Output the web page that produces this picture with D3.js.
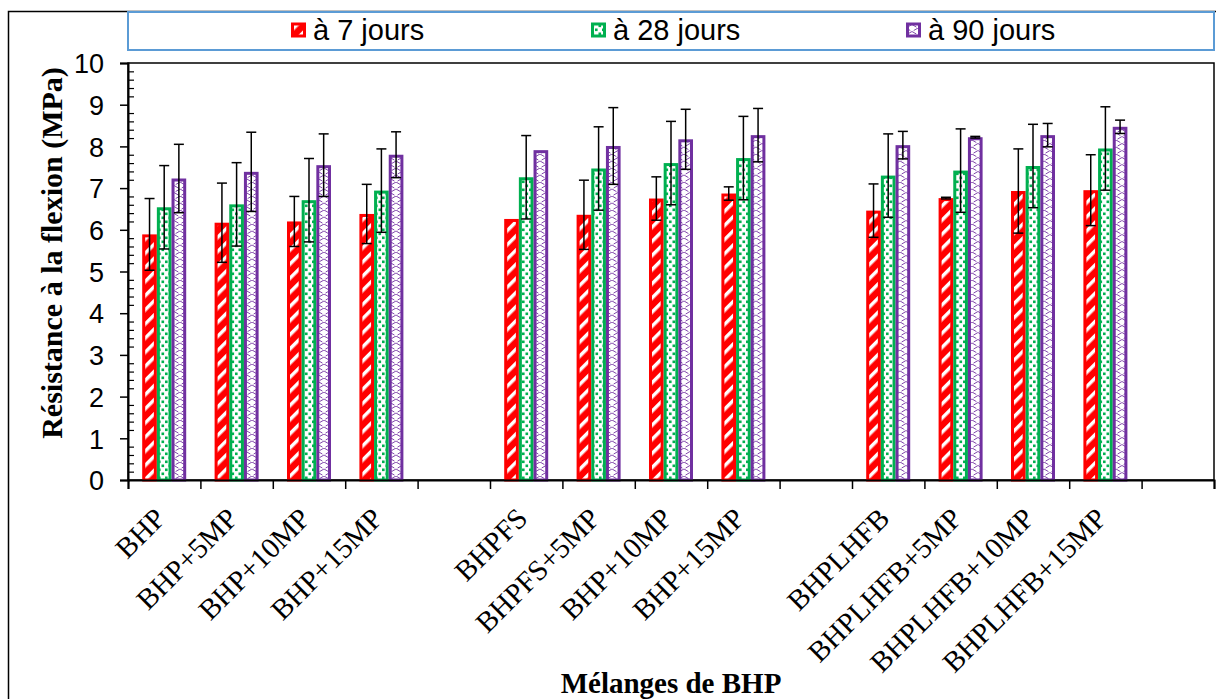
<!DOCTYPE html>
<html>
<head>
<meta charset="utf-8">
<script src="https://cdn.jsdelivr.net/npm/d3@7"></script>
<style>
	body { margin: 0; background: #fff; }
	svg { display: block; }
	.tick-y { font-family: "Liberation Sans", Arial, sans-serif; font-size: 27px; }
	.tick-x { font-family: "Liberation Serif", "Times New Roman", serif; font-size: 29px; }
	.title { font-family: "Liberation Serif", "Times New Roman", serif; font-size: 29px; font-weight: bold; }
	.title-y { font-size: 30px; }
	.legend { font-family: "Liberation Sans", Arial, sans-serif; font-size: 29px; }
</style>
</head>
<body>
<div id="chart"></div>
<script>
// ---------- DATA ----------
// empty strings are the blank slots between the three families
const categories = [
	"BHP", "BHP+5MP", "BHP+10MP", "BHP+15MP", "",
	"BHPFS", "BHPFS+5MP", "BHP+10MP", "BHP+15MP", "",
	"BHPLHFB", "BHPLHFB+5MP", "BHPLHFB+10MP", "BHPLHFB+15MP", "",
];

const seriesNames = ["à 7 jours", "à 28 jours", "à 90 jours"];

const jours7 = [5.89, 6.17, 6.2, 6.38, null, 6.26, 6.36, 6.75, 6.87, null, 6.46, 6.76, 6.93, 6.95, null];
const jours28 = [6.54, 6.61, 6.71, 6.94, null, 7.26, 7.47, 7.6, 7.72, null, 7.3, 7.42, 7.53, 7.95, null];
const jours90 = [7.23, 7.39, 7.55, 7.8, null, 7.91, 8.01, 8.17, 8.27, null, 8.03, 8.22, 8.27, 8.47, null];

const err7 = [0.86, 0.95, 0.6, 0.71, null, 0, 0.83, 0.52, 0.16, null, 0.64, 0.02, 1.01, 0.85, null];
const err28 = [1.0, 1.0, 1.0, 1.0, null, 1.0, 1.0, 1.0, 1.0, null, 1.0, 1.0, 1.0, 1.0, null];
const err90 = [0.82, 0.95, 0.75, 0.55, null, 0, 0.92, 0.72, 0.64, null, 0.33, 0.02, 0.28, 0.16, null];

const yTicks = [0, 1, 2, 3, 4, 5, 6, 7, 8, 9, 10];

// ---------- LAYOUT ----------
const width = 1216;
const height = 699;
const plot = { left: 128, right: 1214, top: 63, bottom: 480 };

const colors = ["#FF0000", "#00B050", "#7030A0"];
const patterns = ["pat-red", "pat-green", "pat-purple"];

const svg = d3
	.select("#chart")
	.append("svg")
	.attr("width", width)
	.attr("height", height);

svg.append("rect").attr("width", width).attr("height", height).attr("fill", "#fff");

// hatch patterns
const defs = svg.append("defs");

const pRed = defs
	.append("pattern")
	.attr("id", "pat-red")
	.attr("patternUnits", "userSpaceOnUse")
	.attr("width", 10)
	.attr("height", 10)
	.attr("patternTransform", "rotate(45)");
pRed.append("rect").attr("width", 10).attr("height", 10).attr("fill", colors[0]);
pRed.append("rect").attr("width", 3.5).attr("height", 10).attr("fill", "#fff");

const pGreen = defs
	.append("pattern")
	.attr("id", "pat-green")
	.attr("patternUnits", "userSpaceOnUse")
	.attr("width", 7)
	.attr("height", 8);
pGreen.append("rect").attr("width", 7).attr("height", 8).attr("fill", "#fff");
pGreen.append("rect").attr("x", 0.5).attr("y", 0.5).attr("width", 2.6).attr("height", 2.6).attr("fill", colors[1]);
pGreen.append("rect").attr("x", 4).attr("y", 4.5).attr("width", 2.6).attr("height", 2.6).attr("fill", colors[1]);

const pPurple = defs
	.append("pattern")
	.attr("id", "pat-purple")
	.attr("patternUnits", "userSpaceOnUse")
	.attr("width", 12)
	.attr("height", 14);
pPurple.append("rect").attr("width", 12).attr("height", 14).attr("fill", "#fff");
pPurple
	.append("path")
	.attr("d", "M0,0 L12,7 L0,14 M12,0 L0,7 L12,14")
	.attr("fill", "none")
	.attr("stroke", colors[2])
	.attr("stroke-width", 0.9)
	.attr("stroke-dasharray", "5,2");

// outer frame
svg.append("rect")
	.attr("x", 8.5)
	.attr("y", 11.5)
	.attr("width", width)
	.attr("height", height)
	.attr("fill", "none")
	.attr("stroke", "#000")
	.attr("stroke-width", 1.5);

// ---------- SCALES ----------
const x = d3
	.scaleBand()
	.domain(d3.range(categories.length))
	.range([plot.left, plot.right])
	.paddingInner(0)
	.paddingOuter(0);

const groupWidth = 44;
const x1 = d3.scaleBand().domain(d3.range(3)).range([0, groupWidth]);

const y = d3.scaleLinear().domain([0, 10]).range([plot.bottom, plot.top]);

const values = [jours7, jours28, jours90];
const errors = [err7, err28, err90];

const rows = [];
categories.forEach((c, i) => {
	values.forEach((vals, s) => {
		if (vals[i] == null) return;
		rows.push({ i: i, s: s, v: vals[i], e: errors[s][i] });
	});
});

const barX = (d) => x(d.i) + x.bandwidth() / 2 - groupWidth / 2 + x1(d.s);

// plot border
svg.append("rect")
	.attr("x", plot.left)
	.attr("y", plot.top)
	.attr("width", plot.right - plot.left)
	.attr("height", plot.bottom - plot.top)
	.attr("fill", "none")
	.attr("stroke", "#000")
	.attr("stroke-width", 1.5);

// ---------- BARS ----------
svg.append("g")
	.selectAll("rect")
	.data(rows)
	.enter()
	.append("rect")
	.attr("x", (d) => barX(d) + 1.5)
	.attr("y", (d) => y(d.v) + 1.5)
	.attr("width", x1.bandwidth() - 3)
	.attr("height", (d) => y(0) - y(d.v) - 1.5)
	.attr("fill", (d) => `url(#${patterns[d.s]})`)
	.attr("stroke", (d) => colors[d.s])
	.attr("stroke-width", 3);

// error bars
const errG = svg
	.append("g")
	.attr("stroke", "#000")
	.attr("stroke-width", 1.5)
	.selectAll("g")
	.data(rows.filter((d) => d.e))
	.enter()
	.append("g");

errG.append("line")
	.attr("x1", (d) => barX(d) + x1.bandwidth() / 2)
	.attr("x2", (d) => barX(d) + x1.bandwidth() / 2)
	.attr("y1", (d) => y(d.v + d.e))
	.attr("y2", (d) => y(d.v - d.e));

[1, -1].forEach((sign) => {
	errG.append("line")
		.attr("x1", (d) => barX(d) + x1.bandwidth() / 2 - 5)
		.attr("x2", (d) => barX(d) + x1.bandwidth() / 2 + 5)
		.attr("y1", (d) => y(d.v + sign * d.e))
		.attr("y2", (d) => y(d.v + sign * d.e));
});

// ---------- AXES ----------
const yAxis = svg
	.append("g")
	.attr("transform", `translate(${plot.left},0)`)
	.call(d3.axisLeft(y).tickValues(yTicks).tickSize(8).tickPadding(16).tickFormat(d3.format("d")));
yAxis.select(".domain").attr("stroke-width", 2);
yAxis.selectAll(".tick line").attr("stroke-width", 1.5);
yAxis.selectAll(".tick text").attr("class", "tick-y").attr("fill", "#000").attr("dy", "0.36em");

const minorTicks = d3.range(0, 10.01, 0.2).filter((v) => Math.abs(v - Math.round(v)) > 0.01);
svg.append("g")
	.attr("transform", `translate(${plot.left},0)`)
	.call(d3.axisLeft(y).tickValues(minorTicks).tickSize(-6).tickFormat(""))
	.call((g) => g.select(".domain").remove())
	.selectAll("line")
	.attr("stroke-width", 1.2);

const xEdges = d3.scaleLinear().domain([0, categories.length]).range([plot.left, plot.right]);
const xAxis = svg
	.append("g")
	.attr("transform", `translate(0,${plot.bottom})`)
	.call(d3.axisBottom(xEdges).tickValues(d3.range(categories.length + 1)).tickSize(9).tickFormat(""));
xAxis.select(".domain").attr("stroke-width", 2);
xAxis.selectAll(".tick line").attr("stroke-width", 1.5);

svg.append("g")
	.selectAll("text")
	.data(categories.map((c, i) => ({ c: c, i: i })).filter((d) => d.c))
	.enter()
	.append("text")
	.attr("class", "tick-x")
	.attr("text-anchor", "end")
	.attr("transform", (d) => `translate(${x(d.i) + x.bandwidth() / 2 + 3},520) rotate(-45)`)
	.text((d) => d.c);

// axis titles
svg.append("text")
	.attr("class", "title title-y")
	.attr("text-anchor", "middle")
	.attr("transform", "translate(62,253) rotate(-90)")
	.text("Résistance à la flexion (MPa)");

svg.append("text")
	.attr("class", "title")
	.attr("text-anchor", "middle")
	.attr("x", 671)
	.attr("y", 693)
	.text("Mélanges de BHP");

// ---------- LEGEND ----------
svg.append("rect")
	.attr("x", 128)
	.attr("y", 12)
	.attr("width", 1086)
	.attr("height", 38)
	.attr("fill", "#fff")
	.attr("stroke", "#5B9BD5")
	.attr("stroke-width", 2);

const legendX = [291, 591, 906];
const legendItem = svg
	.append("g")
	.selectAll("g")
	.data(seriesNames)
	.enter()
	.append("g")
	.attr("transform", (d, i) => `translate(${legendX[i]},0)`);

legendItem
	.append("rect")
	.attr("x", 1.5)
	.attr("y", 24)
	.attr("width", 12)
	.attr("height", 12)
	.attr("fill", (d, i) => `url(#${patterns[i]})`)
	.attr("stroke", (d, i) => colors[i])
	.attr("stroke-width", 3);

legendItem
	.append("text")
	.attr("class", "legend")
	.attr("x", 22)
	.attr("y", 40)
	.text((d) => d);
</script>
</body>
</html>
